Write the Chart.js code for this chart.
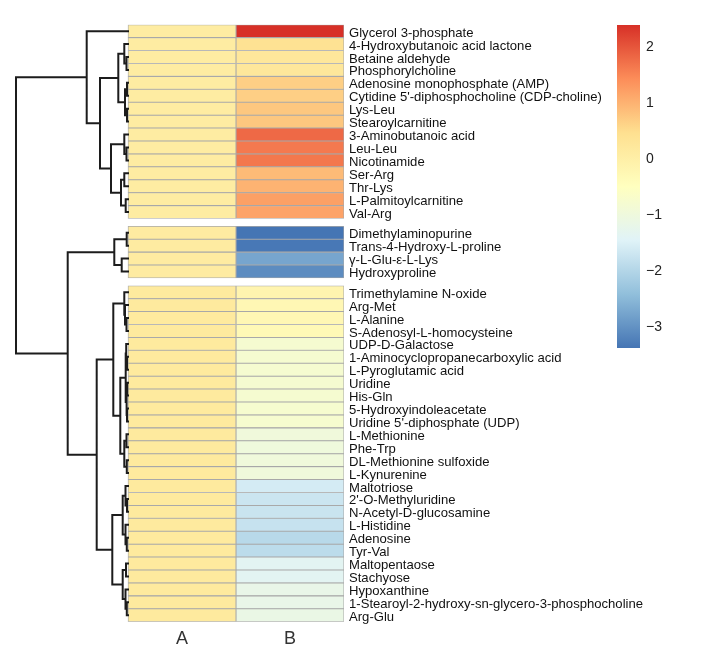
<!DOCTYPE html>
<html><head><meta charset="utf-8">
<script src="https://cdn.jsdelivr.net/npm/chart.js@4.4.1/dist/chart.umd.min.js"></script>
<style>
html,body{margin:0;padding:0;background:#fff;}
#wrap{position:relative;width:703px;height:662px;overflow:hidden;}
#main{position:absolute;left:0;top:0;}
#legend{position:absolute;left:600px;top:0;}
</style></head><body>
<div id="wrap"><canvas id="main" width="703" height="662"></canvas><canvas id="legend" width="103" height="370"></canvas></div>
<script>
// ---------------- data ----------------
const ROWS = [
  "Glycerol 3-phosphate","4-Hydroxybutanoic acid lactone","Betaine aldehyde","Phosphorylcholine",
  "Adenosine monophosphate (AMP)","Cytidine 5'-diphosphocholine (CDP-choline)","Lys-Leu","Stearoylcarnitine",
  "3-Aminobutanoic acid","Leu-Leu","Nicotinamide","Ser-Arg","Thr-Lys","L-Palmitoylcarnitine","Val-Arg",
  "Dimethylaminopurine","Trans-4-Hydroxy-L-proline","\u03B3-L-Glu-\u03B5-L-Lys","Hydroxyproline",
  "Trimethylamine N-oxide","Arg-Met","L-Alanine","S-Adenosyl-L-homocysteine","UDP-D-Galactose",
  "1-Aminocyclopropanecarboxylic acid","L-Pyroglutamic acid","Uridine","His-Gln","5-Hydroxyindoleacetate",
  "Uridine 5'-diphosphate (UDP)","L-Methionine","Phe-Trp","DL-Methionine sulfoxide","L-Kynurenine",
  "Maltotriose","2'-O-Methyluridine","N-Acetyl-D-glucosamine","L-Histidine","Adenosine","Tyr-Val",
  "Maltopentaose","Stachyose","Hypoxanthine","1-Stearoyl-2-hydroxy-sn-glycero-3-phosphocholine","Arg-Glu"
];
const COLUMNS = ["A","B"];
const GROUP_SIZES = [15, 4, 26];
const VALUES_A = [
  0.10,0.10,0.10,0.10,0.10,0.10,0.10,0.10,0.10,0.10,0.10,0.10,0.10,0.10,0.10,
  0.12,0.12,0.12,0.12,
  0.18,0.18,0.18,0.18,0.18,0.18,0.18,0.18,0.18,0.18,0.18,0.18,0.18,0.18,0.18,
  0.18,0.18,0.18,0.18,0.18,0.18,0.18,0.18,0.18,0.18,0.18
];
const VALUES_B = [
  2.40,0.42,0.26,0.26,0.67,0.67,0.77,0.77,1.81,1.64,1.66,0.91,1.00,1.22,1.18,
  -3.37,-3.33,-2.74,-3.07,
  -0.15,-0.25,-0.25,-0.30,-0.78,-0.78,-0.78,-0.78,-0.78,-0.76,-0.75,
  -0.96,-0.98,-0.96,-0.95,
  -1.59,-1.70,-1.73,-1.76,-1.93,-1.88,
  -1.35,-1.35,-1.17,-1.17,-1.13
];
const LEGEND_TICKS = [-3, -2, -1, 0, 1, 2];
const PALETTE = ["#4575B4","#91BFDB","#E0F3F8","#FFFFBF","#FEE090","#FC8D59","#D73027"];
// dendrogram: [mergeHeight, left, right]; leaves are row indices
const DENDROGRAM =
  [112,
    [41.3, 0,
      [28,
        [9.7, [3.7, 1, [1.5, 2, 3]], [3, [1, 4, 5], [1, 6, 7]]],
        [17, [3.7, 8, [1.5, 9, 10]], [7, [3.7, 11, 12], [2.3, 13, 14]]]
      ]
    ],
    [60.3,
      [13.7, [1.3, 15, 16], [6.3, 17, 18]],
      [31.3,
        [14.7,
          [3.7, 19, [3, 20, [1.5, 21, 22]]],
          [7.7,
            [2.3, [1.8, 23, [1, 24, 25]], [1.4, [0.8, 26, 27], [1, 28, 29]]],
            [3.7, [1.5, 30, 31], [1.2, 32, 33]]
          ]
        ],
        [15.7,
          [5.3, [2.5, 34, [1, 35, 36]], [2.5, 37, [1.2, 38, 39]]],
          [5.3, [2, 40, 41], [2.5, 42, [1.2, 43, 44]]]
        ]
      ]
    ]
  ];

// ---------------- helpers ----------------
const FONT = "'Liberation Sans', Arial, Helvetica, sans-serif";
const GAP = 0.6;
const LABEL_NUDGE = 0.15;
const POS = [];
GROUP_SIZES.forEach((n, g) => { for (let k = 0; k < n; k++) POS.push(POS.length + g * GAP); });

const vmin = Math.min(...VALUES_A, ...VALUES_B);
const vmax = Math.max(...VALUES_A, ...VALUES_B);
function hex2rgb(h){ return [1,3,5].map(i => parseInt(h.substr(i,2),16)); }
function colorFor(v){
  const t = Math.max(0, Math.min(1, (v - vmin) / (vmax - vmin)));
  const s = t * (PALETTE.length - 1);
  const i = Math.min(Math.floor(s), PALETTE.length - 2);
  const f = s - i;
  const a = hex2rgb(PALETTE[i]), b = hex2rgb(PALETTE[i+1]);
  const c = a.map((x, k) => Math.round(x + (b[k] - x) * f));
  return `rgb(${c[0]},${c[1]},${c[2]})`;
}

const DENDRO_W = 1.037;
const rootH = DENDROGRAM[0];
const dendroPts = [];
function walk(node){
  if (typeof node === 'number') return {x: 0, y: POS[node]};
  const L = walk(node[1]), R = walk(node[2]);
  const x = -node[0] / rootH * DENDRO_W;
  dendroPts.push({x: L.x, y: L.y}, {x: x, y: L.y}, {x: x, y: R.y}, {x: R.x, y: R.y}, {x: null, y: null});
  return {x: x, y: (L.y + R.y) / 2};
}
walk(DENDROGRAM);

// ---------------- main chart ----------------
new Chart(document.getElementById('main'), {
  type: 'bar',
  data: {
    datasets: [
      { type: 'line', data: dendroPts, borderColor: '#1c1c1c', borderWidth: 2, pointRadius: 0,
        fill: false, tension: 0, spanGaps: false, clip: false, borderJoinStyle: 'miter', borderCapStyle: 'square' },
      { label: COLUMNS[0], data: ROWS.map((r, i) => ({x: [0, 1], y: POS[i]})),
        backgroundColor: VALUES_A.map(colorFor), borderColor: '#a9a9a9', borderWidth: 0.85,
        borderSkipped: false, grouped: false, barPercentage: 1, categoryPercentage: 1 },
      { label: COLUMNS[1], data: ROWS.map((r, i) => ({x: [1, 2], y: POS[i]})),
        backgroundColor: VALUES_B.map(colorFor), borderColor: '#a9a9a9', borderWidth: 0.85,
        borderSkipped: false, grouped: false, barPercentage: 1, categoryPercentage: 1 }
    ]
  },
  options: {
    indexAxis: 'y', responsive: false, animation: false, events: [],
    layout: { padding: { left: 9.2, top: 24.7, right: 0, bottom: 0 } },
    plugins: { legend: { display: false }, tooltip: { enabled: false } },
    scales: {
      x: { type: 'linear', min: -1.1, max: 2, offset: false,
        grid: { display: false, drawTicks: false }, border: { display: false },
        afterBuildTicks: s => { s.ticks = [{value: 0.5}, {value: 1.5}]; },
        ticks: { autoSkip: false, maxRotation: 0, callback: (v, i) => COLUMNS[i],
          font: { family: FONT, size: 18 }, color: '#333', padding: 7 },
        afterFit: s => { s.height = 40.3; s.paddingLeft = 0; s.paddingRight = 0; } },
      y: { type: 'linear', position: 'right', reverse: true, offset: false,
        min: -0.5, max: POS[POS.length-1] + 0.5,
        grid: { display: false, drawTicks: false, offset: false }, border: { display: false },
        afterBuildTicks: s => { s.ticks = POS.map(v => ({value: v + LABEL_NUDGE})); },
        ticks: { autoSkip: false, callback: (v, i) => ROWS[i],
          font: { family: FONT, size: 13.1 }, color: '#111', padding: 5 },
        afterFit: s => { s.width = 359; s.paddingTop = 0; s.paddingBottom = 0; } }
    }
  }
});

// ---------------- colour legend ----------------
new Chart(document.getElementById('legend'), {
  type: 'bar',
  data: { labels: [''], datasets: [{
    data: [[vmin, vmax]],
    backgroundColor: ctx => {
      const ch = ctx.chart, ys = ch.scales.y;
      if (!ys || !ch.chartArea) return PALETTE[3];
      const g = ch.ctx.createLinearGradient(0, ys.getPixelForValue(vmin), 0, ys.getPixelForValue(vmax));
      PALETTE.forEach((c, i) => g.addColorStop(i / (PALETTE.length - 1), c));
      return g;
    },
    borderWidth: 0, barPercentage: 1, categoryPercentage: 1 }] },
  options: {
    responsive: false, animation: false, events: [],
    layout: { padding: { left: 17, top: 25, bottom: 22, right: 0 } },
    plugins: { legend: { display: false }, tooltip: { enabled: false } },
    scales: {
      x: { display: false },
      y: { position: 'right', min: vmin, max: vmax,
        grid: { display: false, drawTicks: false }, border: { display: false },
        afterBuildTicks: s => { s.ticks = LEGEND_TICKS.map(v => ({value: v})); },
        ticks: { callback: v => v < 0 ? '\u2212' + Math.abs(v) : String(v),
          font: { family: FONT, size: 14 }, color: '#222', padding: 6 },
        afterFit: s => { s.width = 63; } }
    }
  }
});
</script>
</body></html>
